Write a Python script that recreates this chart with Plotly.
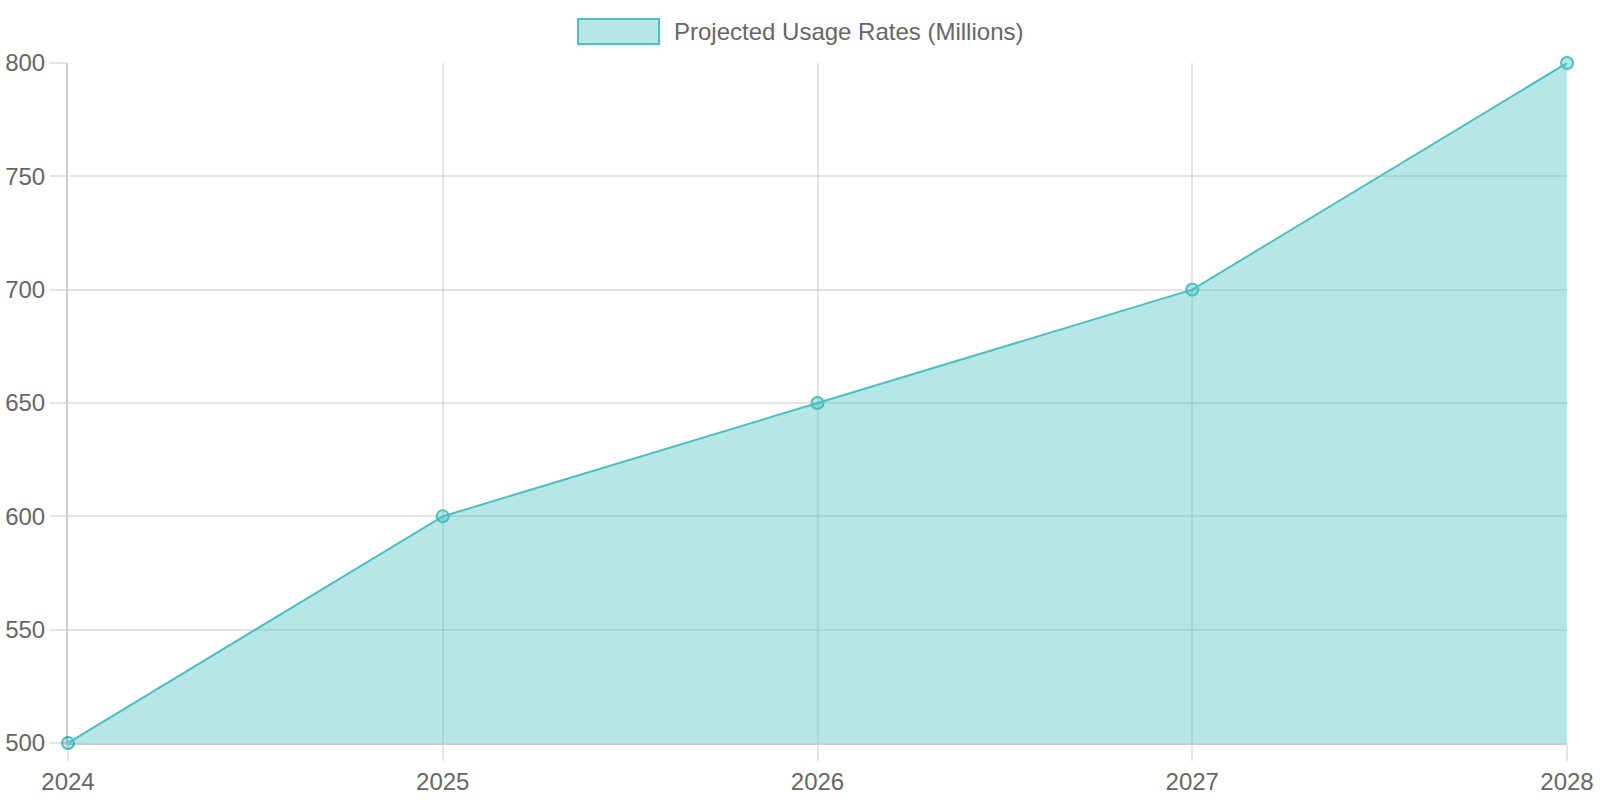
import plotly.graph_objects as go

years = [2024, 2025, 2026, 2027, 2028]
usage = [500, 600, 650, 700, 800]
series_name = "Projected Usage Rates (Millions)"
y_ticks = [500, 550, 600, 650, 700, 750, 800]

LINE = "rgb(75,192,192)"
FILL = "rgba(75,192,192,0.4)"
GRID = "rgba(0,0,0,0.1)"
TXT = "#666666"
FONT = "Liberation Sans, Arial, Helvetica, sans-serif"

fig = go.Figure()
fig.add_trace(go.Scatter(
    x=years, y=usage, mode="lines+markers", fill="tozeroy",
    fillcolor=FILL, line=dict(color=LINE, width=2),
    marker=dict(size=12, color=FILL, line=dict(color=LINE, width=2)),
    cliponaxis=False, showlegend=False, name=series_name,
))

fig.update_layout(
    width=1600, height=800,
    margin=dict(l=68, r=33, t=63, b=57),
    paper_bgcolor="white", plot_bgcolor="white",
    font=dict(family=FONT, size=24, color=TXT),
    showlegend=False,
    xaxis=dict(
        range=[years[0], years[-1]], tickmode="array", tickvals=years,
        ticktext=[str(y) for y in years], automargin=False,
        showgrid=True, gridcolor=GRID, gridwidth=2,
        ticks="outside", ticklen=16, tickwidth=2, tickcolor=GRID,
        showline=True, linecolor="rgba(0,0,0,0.2)", linewidth=2,
        zeroline=False, tickfont=dict(size=24, color=TXT),
    ),
    yaxis=dict(
        range=[500, 800], tickmode="array", tickvals=y_ticks, automargin=False,
        showgrid=True, gridcolor=GRID, gridwidth=2,
        ticks="outside", ticklen=16, tickwidth=2, tickcolor=GRID,
        showline=True, linecolor="rgba(0,0,0,0.2)", linewidth=2,
        zeroline=False, tickfont=dict(size=24, color=TXT),
    ),
)

# legend drawn manually (Chart.js style box + label)
fig.add_shape(type="rect", xref="paper", yref="paper",
              x0=(578 - 68) / 1499, x1=(659 - 68) / 1499,
              y0=(743 - 44) / 680, y1=(743 - 19) / 680,
              fillcolor=FILL, line=dict(color=LINE, width=2))
fig.add_annotation(xref="paper", yref="paper",
                   x=(672 - 68) / 1499, y=(743 - 32) / 680,
                   xanchor="left", yanchor="middle", showarrow=False,
                   text=series_name, font=dict(size=24, color=TXT, family=FONT))

fig.write_html("out.html")
